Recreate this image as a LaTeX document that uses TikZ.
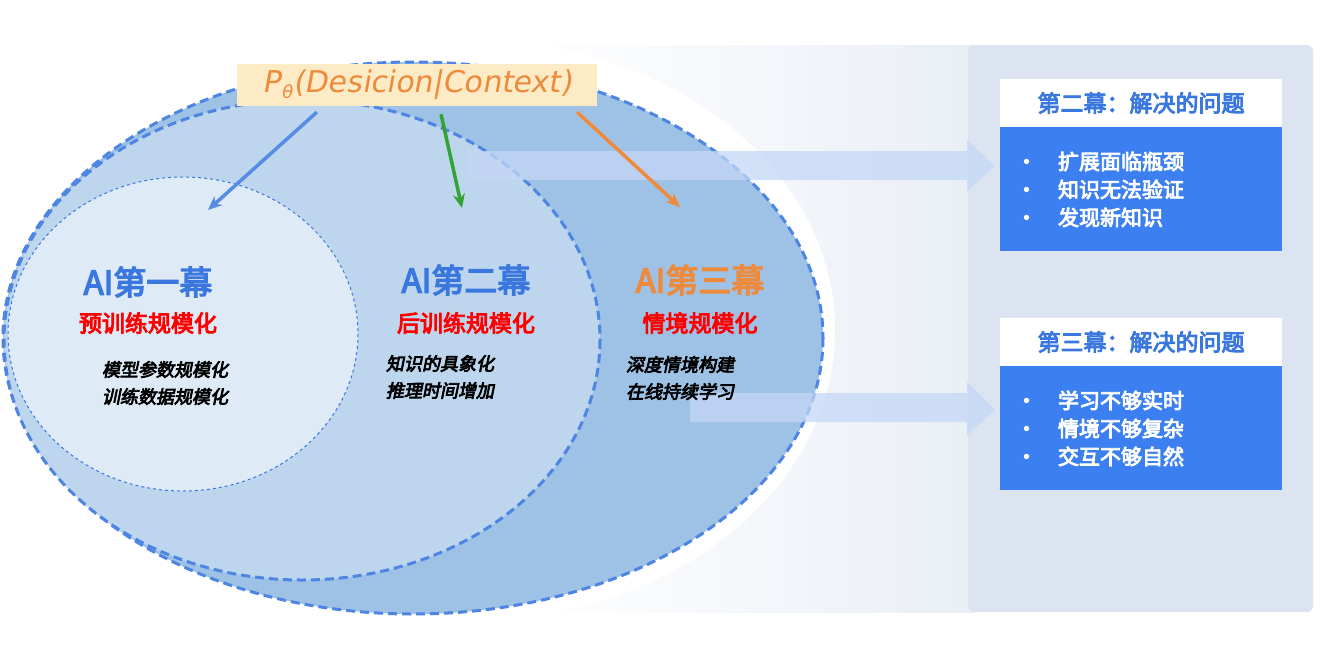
\documentclass[tikz,border=0pt]{standalone}
\usepackage{fontspec}
\newfontfamily\cjk{Noto Sans CJK SC}[AutoFakeBold=4,AutoFakeSlant=0.2]
\newfontfamily\formfont{DejaVu Sans}[AutoFakeSlant=0.18]
\usetikzlibrary{arrows.meta,shapes.arrows}
\definecolor{actblue}{HTML}{3A78E0}
\definecolor{actorange}{HTML}{EE8A3C}
\definecolor{boxblue}{HTML}{3B7FF0}
\definecolor{panel}{HTML}{DBE4F0}
\definecolor{outerfill}{HTML}{9EC2E6}
\definecolor{midfill}{HTML}{BDD6EE}
\definecolor{innerfill}{HTML}{DEEAF6}
\definecolor{formfill}{HTML}{FDEBC6}
\tikzset{
  title/.style={font=\cjk\bfseries\fontsize{33}{35}\selectfont},
  sub/.style={font=\cjk\bfseries\fontsize{23}{26}\selectfont, text=red},
  desc/.style={font=\cjk\bfseries\itshape\fontsize{18}{27}\selectfont, align=left},
  ring/.style={draw=actblue!90, dash pattern=on 9pt off 5pt, line width=3pt},
  fatarrow/.style={fill=actblue!30, fill opacity=0.75, draw=none},
  head/.style={fill=white, minimum width=282pt, minimum height=48pt, text=actblue,
    font=\cjk\bfseries\fontsize{23}{26}\selectfont},
  body/.style={fill=boxblue, minimum width=282pt, minimum height=124pt, text=white,
    font=\cjk\bfseries\fontsize{21}{28}\selectfont, align=left, text width=250pt}
}
\begin{document}
\begin{tikzpicture}[x=1pt,y=-1pt]
\useasboundingbox (0,0) rectangle (1339,657);
\fill[white] (0,0) rectangle (1339,657);
% background
\fill[left color=white, right color=panel!60] (520,45) rectangle (975,612);
\fill[panel, rounded corners=6pt] (968,45) rectangle (1313,612);
\fill[white] (470,330) ellipse [x radius=365, y radius=290];
% the three acts
\draw[ring, fill=outerfill] (413,338) ellipse [x radius=410, y radius=276];
\draw[ring, fill=midfill] (302,340) ellipse [x radius=298, y radius=240];
\draw[draw=actblue, dashed, line width=1pt, fill=innerfill] (183,334) ellipse [x radius=175, y radius=157];
% broad arrows
\fill[fatarrow] (467,151) -- (967,151) -- (967,140) -- (995,166) -- (967,191) -- (967,180) -- (467,180) -- cycle;
\fill[fatarrow] (690,393) -- (967,393) -- (967,382) -- (995,410) -- (967,435) -- (967,422) -- (690,422) -- cycle;
% formula
\node[fill=formfill, inner sep=3pt, minimum width=360pt, minimum height=42pt,
  text=actorange, font=\formfont\itshape\fontsize{30}{32}\selectfont] (formula) at (417,85)
  {P\kern1pt\raisebox{-6pt}{\fontsize{18}{18}\selectfont θ}\kern1pt(Desicion|Context)};
\node[title, text=actblue] (act1) at (148,282) {AI第一幕};
\node[sub] (sub1) at (148,323) {预训练规模化};
\node[desc] (d1) at (165,383) {模型参数规模化\\训练数据规模化};
\node[title, text=actblue] (act2) at (466,280) {AI第二幕};
\node[sub] (sub2) at (466,323) {后训练规模化};
\node[desc] (d2) at (440,377) {知识的具象化\\推理时间增加};
\node[title, text=actorange] (act3) at (700,280) {AI第三幕};
\node[sub] (sub3) at (700,323) {情境规模化};
\node[desc] (d3) at (680,378) {深度情境构建\\在线持续学习};
\coordinate (t1) at (208,210);
\coordinate (t2) at (462,208);
\coordinate (t3) at (680,207);
\draw[-{Stealth[length=14pt,width=12pt]}, line width=3.5pt, actblue!85] (formula.south west)++(80,6) -- (t1);
\draw[-{Stealth[length=14pt,width=12pt]}, line width=3.5pt, green!55!black!80] (formula.south)++(24,8) -- (t2);
\draw[-{Stealth[length=14pt,width=12pt]}, line width=3.5pt, actorange] (formula.south east)++(-20,6) -- (t3);
% problem boxes
\node[head] (h2) at (1141,103) {第二幕：解决的问题};
\node[body, anchor=north] (b2) at (h2.south) {•\quad 扩展面临瓶颈\\•\quad 知识无法验证\\•\quad 发现新知识};
\node[head] (h3) at (1141,342) {第三幕：解决的问题};
\node[body, anchor=north] (b3) at (h3.south) {•\quad 学习不够实时\\•\quad 情境不够复杂\\•\quad 交互不够自然};
\end{tikzpicture}
\end{document}
